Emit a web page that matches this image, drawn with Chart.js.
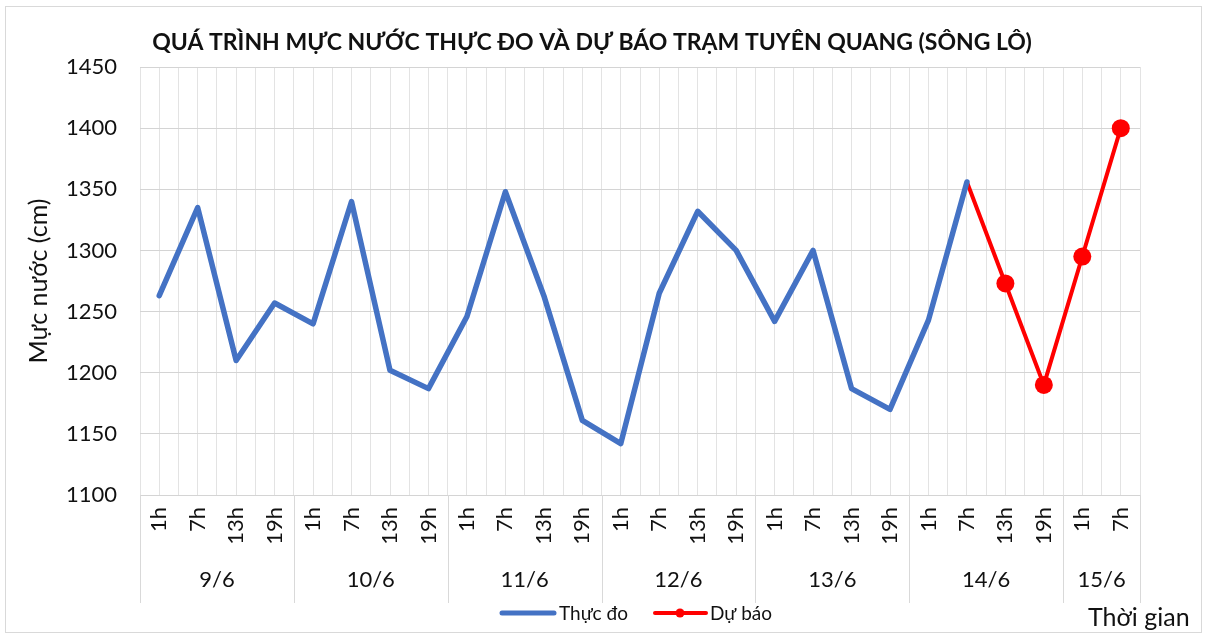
<!DOCTYPE html>
<html>
<head>
<meta charset="utf-8">
<script src="https://cdn.jsdelivr.net/npm/chart.js@4/dist/chart.umd.min.js"></script>
<style>
  html, body { margin: 0; padding: 0; background: #fff; }
  #wrap { width: 1211px; height: 637px; }
</style>
</head>
<body>
<div id="wrap"><canvas id="chart" width="1211" height="637"></canvas></div>
<script>
// data
const hours = ['1h', '7h', '13h', '19h'];
const days = ['9/6', '10/6', '11/6', '12/6', '13/6', '14/6', '15/6'];
const dayCounts = [4, 4, 4, 4, 4, 4, 2];
const measured = [1263, 1335, 1210, 1257, 1240, 1340, 1202, 1187, 1246, 1348, 1263, 1161,
  1142, 1265, 1332, 1300, 1242, 1300, 1187, 1170, 1243, 1356, null, null, null, null];
const forecast = [null, null, null, null, null, null, null, null, null, null, null, null,
  null, null, null, null, null, null, null, null, null, 1356, 1273, 1190, 1295, 1400];
const yTicks = [1100, 1150, 1200, 1250, 1300, 1350, 1400, 1450];

const labels = [];
dayCounts.forEach(n => hours.slice(0, n).forEach(h => labels.push(h)));

const FONT = 'Lato';
const TXT = '#111';

// draws the frame, title, day groups and legend around the plot
const decor = {
  id: 'decor',
  beforeDraw(chart) {
    const ctx = chart.ctx;
    ctx.save();
    ctx.fillStyle = '#fff';
    ctx.fillRect(0, 0, chart.width, chart.height);
    ctx.strokeStyle = '#d9d9d9';
    ctx.lineWidth = 1;
    ctx.strokeRect(5.5, 6.5, 1196, 626);
    ctx.restore();
  },
  afterDraw(chart) {
    const ctx = chart.ctx;
    const xg = chart.scales.xg;
    const xs = chart.scales.x;
    const area = chart.chartArea;
    ctx.save();

    // title
    ctx.fillStyle = TXT;
    ctx.font = `bold 23px ${FONT}`;
    ctx.textAlign = 'center';
    ctx.textBaseline = 'middle';
    ctx.fillText('QUÁ TRÌNH MỰC NƯỚC THỰC ĐO VÀ DỰ BÁO TRẠM TUYÊN QUANG (SÔNG LÔ)', 592, 43);

    // day separators and labels
    ctx.strokeStyle = '#d9d9d9';
    ctx.lineWidth = 1;
    let start = 0;
    const bounds = [0];
    dayCounts.forEach(n => { start += n; bounds.push(start); });
    bounds.forEach(b => {
      const px = Math.round(xg.getPixelForValue(b * 2)) + 0.5;
      ctx.beginPath();
      ctx.moveTo(px, area.bottom);
      ctx.lineTo(px, xs.bottom);
      ctx.stroke();
    });
    ctx.font = `22px ${FONT}`;
    ctx.fillStyle = TXT;
    days.forEach((d, i) => {
      const cx = xg.getPixelForValue(bounds[i] + bounds[i + 1]);
      ctx.fillText(d, cx, 580);
    });

    // legend
    ctx.lineCap = 'round';
    ctx.lineWidth = 5;
    ctx.strokeStyle = '#4472C4';
    ctx.beginPath(); ctx.moveTo(502, 613); ctx.lineTo(554, 613); ctx.stroke();
    ctx.strokeStyle = '#FF0000';
    ctx.lineWidth = 4;
    ctx.beginPath(); ctx.moveTo(655, 613); ctx.lineTo(706, 613); ctx.stroke();
    ctx.fillStyle = '#FF0000';
    ctx.beginPath(); ctx.arc(680, 613, 4.5, 0, Math.PI * 2); ctx.fill();
    ctx.fillStyle = TXT;
    ctx.font = `19px ${FONT}`;
    ctx.textAlign = 'left';
    ctx.fillText('Thực đo', 559, 614);
    ctx.fillText('Dự báo', 710, 614);

    ctx.font = `25px ${FONT}`;
    ctx.fillText('Thời gian', 1088, 618);
    ctx.restore();
  }
};

new Chart(document.getElementById('chart'), {
  type: 'line',
  data: {
    labels: labels,
    datasets: [
      {
        label: 'Thực đo',
        data: measured,
        borderColor: '#4472C4',
        backgroundColor: '#4472C4',
        borderWidth: 5.5,
        pointRadius: 0,
        borderCapStyle: 'round',
        borderJoinStyle: 'round',
        tension: 0
      },
      {
        label: 'Dự báo',
        data: forecast,
        borderColor: '#FF0000',
        backgroundColor: '#FF0000',
        borderWidth: 4,
        pointRadius: forecast.map((v, i) => (i === 21 ? 0 : 9)),
        pointBorderWidth: 0,
        tension: 0
      }
    ]
  },
  options: {
    responsive: false,
    animation: false,
    layout: { padding: { top: 67, right: 71, bottom: 34, left: 0 } },
    plugins: {
      legend: { display: false },
      tooltip: { enabled: false },
      title: { display: false }
    },
    scales: {
      x: {
        type: 'category',
        offset: true,
        grid: { display: false, drawTicks: false },
        border: { display: false },
        ticks: {
          minRotation: 90,
          maxRotation: 90,
          autoSkip: false,
          padding: 12,
          color: TXT,
          font: { family: FONT, size: 22 }
        },
        afterFit(s) { s.height = 108; }
      },
      xg: {
        type: 'linear',
        position: 'bottom',
        min: 0,
        max: labels.length * 2,
        ticks: { display: false, stepSize: 1 },
        grid: { color: '#e3e3e3', drawTicks: false },
        border: { display: false },
        afterFit(s) { s.height = 0; }
      },
      y: {
        min: yTicks[0],
        max: yTicks[yTicks.length - 1],
        afterBuildTicks(s) { s.ticks = yTicks.map(v => ({ value: v })); },
        grid: { color: '#d4d4d4', drawTicks: false },
        border: { display: false },
        ticks: {
          padding: 23,
          color: TXT,
          font: { family: FONT, size: 22 },
          callback: v => String(v)
        },
        title: {
          display: true,
          text: 'Mực nước (cm)',
          color: TXT,
          font: { family: FONT, size: 25 },
          padding: { top: 24, bottom: 0 }
        },
        afterFit(s) { s.width = 140; }
      }
    }
  },
  plugins: [decor]
});
</script>
</body>
</html>
